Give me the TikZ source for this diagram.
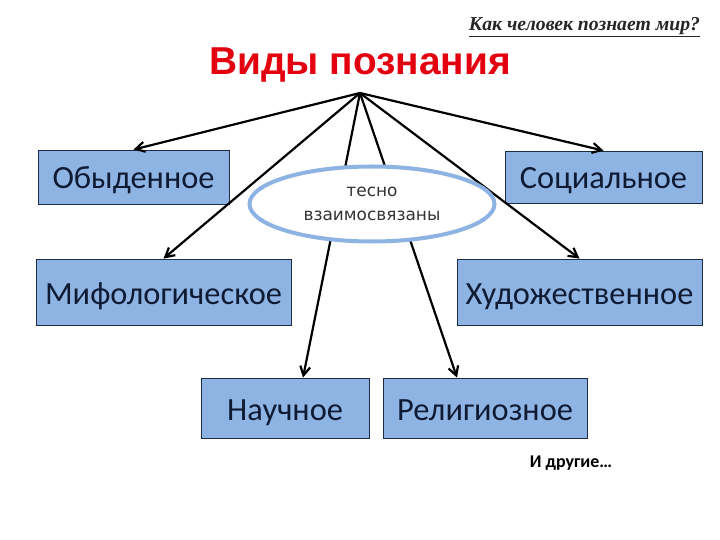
\documentclass[tikz,border=0pt]{standalone}
\usepackage{fontspec}
\setmainfont{Carlito}
\newfontfamily\arialfont{Liberation Sans}
\newfontfamily\timesfont{Liberation Serif}
\newfontfamily\dejavufont{DejaVu Sans}
\usetikzlibrary{arrows.meta,shapes.geometric}
\definecolor{boxblue}{HTML}{8EB4E3}
\definecolor{boxline}{HTML}{1F2A44}
\definecolor{boxtext}{HTML}{0F1A33}
\definecolor{ovalblue}{HTML}{8DB3E2}
\definecolor{titlered}{HTML}{E3000F}

\begin{document}
\begin{tikzpicture}[x=1bp,y=-1bp,
    kind/.style={draw=boxline, line width=0.8bp, fill=boxblue, inner sep=0pt, minimum height=#1,
        text height=27bp, text depth=3bp, text=boxtext, font=\fontsize{32.5}{38}\selectfont},
    link/.style={line width=2.2bp, -{Straight Barb[length=9bp,width=10bp]}}]
    \useasboundingbox (0,0) rectangle (720,540);
    \node[font=\timesfont\bfseries\itshape\fontsize{19.8}{22}\selectfont, text=black!85] (question) at (584.5,27) {\underline{Как человек познает мир?}};
    \node[font=\arialfont\bfseries\fontsize{39}{44}\selectfont, text=titlered] (title) at (360,65) {Виды познания};
    \coordinate (apex) at (360,93);
    \node[kind=54bp, minimum width=191bp] (everyday) at (133.5,177) {Обыденное};
    \node[kind=52bp, minimum width=197bp] (social) at (603.5,177) {Социальное};
    \node[kind=66bp, minimum width=255bp] (myth) at (163.5,292) {Мифологическое};
    \node[kind=66bp, minimum width=245bp] (art) at (579.5,292) {Художественное};
    \node[kind=60bp, minimum width=168bp] (science) at (285,408) {Научное};
    \node[kind=60bp, minimum width=204bp] (religion) at (485,408) {Религиозное};
    \draw[link] (apex) -- (everyday.north);
    \draw[link] (apex) -- (social.north);
    \draw[link] (apex) -- (myth.north);
    \draw[link] (apex) -- (art.north);
    \draw[link] (apex) -- ([xshift=18bp]science.north);
    \draw[link] (apex) -- ([xshift=-28bp]religion.north);
    \node[ellipse, draw=ovalblue, line width=4bp, fill=white, minimum width=245bp, minimum height=75bp,
        align=center, text=black!80, font=\dejavufont\fontsize{17}{24}\selectfont] (oval) at (372,204) {тесно\\взаимосвязаны};
    \node[font=\bfseries\fontsize{18}{20}\selectfont] (others) at (571,463) {И другие…};
\end{tikzpicture}
\end{document}
